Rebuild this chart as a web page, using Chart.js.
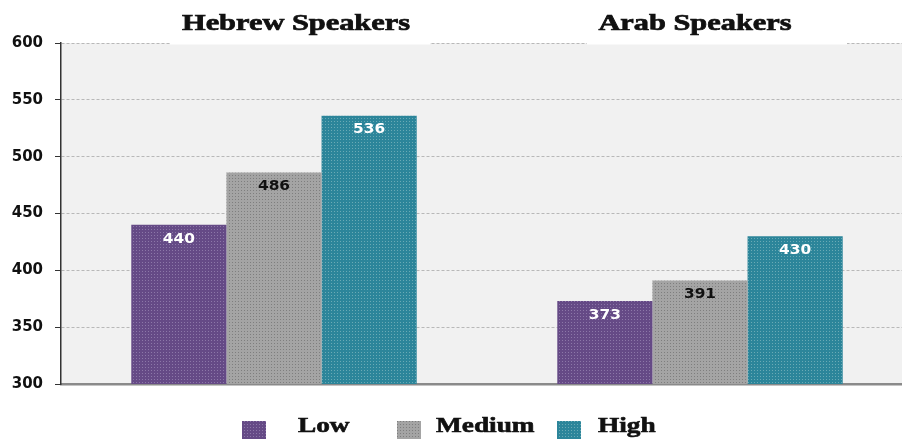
<!DOCTYPE html>
<html lang="en">
  <head>
    <meta charset="utf-8" />
    <title>Hebrew and Arab speakers</title>
    <script src="https://cdn.jsdelivr.net/npm/chart.js/dist/chart.umd.min.js"></script>
    <style>
      * {
        margin: 0;
        padding: 0;
      }
      body {
        background: #fff;
        overflow: hidden;
      }
      .chartBox {
        width: 920px;
        height: 439px;
      }
    </style>
  </head>
  <body>
    <div class="chartBox">
      <canvas id="myChart"></canvas>
    </div>

    <script>
      // data
      const categories = ["Hebrew Speakers", "Arab Speakers"];
      const seriesNames = ["Low", "Medium", "High"];
      const lowValues = [440, 373];
      const mediumValues = [486, 391];
      const highValues = [536, 430];
      const yTicks = [300, 350, 400, 450, 500, 550, 600];

      // dotted fill like the original
      function dots(base, dot) {
        const c = document.createElement("canvas");
        c.width = 3;
        c.height = 3;
        const g = c.getContext("2d");
        g.fillStyle = base;
        g.fillRect(0, 0, 3, 3);
        g.fillStyle = dot;
        g.fillRect(1, 1, 1, 1);
        return g.createPattern(c, "repeat");
      }

      const fills = [
        dots("#654a86", "#8c77a8"),
        dots("#a4a4a4", "#7e7e7e"),
        dots("#2c859a", "#6aaab5"),
      ];
      const labelColors = ["#fff", "#111", "#fff"];

      const data = {
        labels: categories,
        datasets: [lowValues, mediumValues, highValues].map((vals, i) => ({
          label: seriesNames[i],
          data: vals,
          backgroundColor: fills[i],
          borderWidth: 0,
          categoryPercentage: 0.67,
          barPercentage: 1.0,
        })),
      };

      // grey plot background
      const plotBg = {
        id: "plotBg",
        beforeDraw(chart) {
          const { ctx, chartArea: a } = chart;
          ctx.save();
          ctx.fillStyle = "#f1f1f1";
          ctx.fillRect(a.left, a.top, a.right - a.left, a.bottom - a.top);
          ctx.restore();
        },
      };

      // value labels inside the bars
      const barValues = {
        id: "barValues",
        afterDatasetsDraw(chart) {
          const { ctx } = chart;
          ctx.save();
          ctx.font = "bold 14px 'DejaVu Sans'";
          ctx.textAlign = "center";
          ctx.textBaseline = "middle";
          chart.data.datasets.forEach((ds, i) => {
            const meta = chart.getDatasetMeta(i);
            meta.data.forEach((bar, j) => {
              ctx.save();
              ctx.translate(bar.x, bar.y + 14);
              ctx.scale(1.1, 1);
              ctx.fillStyle = labelColors[i];
              ctx.fillText(ds.data[j], 0, 0);
              ctx.restore();
            });
          });
          ctx.restore();
        },
      };

      // group titles on top, on a white strip
      const titleShift = [22, -5];
      const stripShift = [26, 17];
      const groupTitles = {
        id: "groupTitles",
        afterDraw(chart) {
          const { ctx } = chart;
          const xs = chart.scales.x;
          ctx.save();
          chart.data.labels.forEach((lab, i) => {
            const px = xs.getPixelForValue(i);
            const cx = px + titleShift[i];
            ctx.fillStyle = "#fff";
            ctx.fillRect(px + stripShift[i] - 130, 0, 260, 44.5);
            ctx.save();
            ctx.translate(cx, 30);
            ctx.scale(1.32, 1);
            ctx.fillStyle = "#111";
            ctx.strokeStyle = "#111";
            ctx.lineWidth = 0.7;
            ctx.font = "bold 23px 'Liberation Serif'";
            ctx.textAlign = "center";
            ctx.textBaseline = "alphabetic";
            ctx.fillText(lab, 0, 0);
            ctx.strokeText(lab, 0, 0);
            ctx.restore();
          });
          ctx.restore();
        },
      };

      // legend along the bottom
      const legendBoxX = [242, 397, 557];
      const legendTextX = [298, 436, 598];
      const bottomLegend = {
        id: "bottomLegend",
        afterDraw(chart) {
          const { ctx } = chart;
          ctx.save();
          chart.data.datasets.forEach((ds, i) => {
            ctx.fillStyle = ds.backgroundColor;
            ctx.fillRect(legendBoxX[i], 421, 24, 18);
            ctx.save();
            ctx.translate(legendTextX[i], 432);
            ctx.scale(1.3, 1);
            ctx.fillStyle = "#111";
            ctx.strokeStyle = "#111";
            ctx.lineWidth = 0.6;
            ctx.font = "bold 21px 'Liberation Serif'";
            ctx.textAlign = "left";
            ctx.textBaseline = "alphabetic";
            ctx.fillText(ds.label, 0, 0);
            ctx.strokeText(ds.label, 0, 0);
            ctx.restore();
          });
          ctx.restore();
        },
      };

      // config
      const config = {
        type: "bar",
        data,
        options: {
          responsive: true,
          maintainAspectRatio: false,
          animation: false,
          layout: { padding: { top: 43, right: 7, bottom: 55, left: 0 } },
          plugins: {
            legend: { display: false },
            tooltip: { enabled: false },
          },
          scales: {
            x: {
              grid: { display: false, drawTicks: false },
              ticks: { display: false },
              border: { color: "#8a8a8a", width: 2.5 },
              afterFit(s) {
                s.height = 0;
              },
            },
            y: {
              min: yTicks[0],
              max: yTicks[yTicks.length - 1],
              afterBuildTicks(s) {
                s.ticks = yTicks.map((v) => ({ value: v }));
              },
              ticks: {
                color: "#111",
                padding: 12,
                font: { family: "'DejaVu Sans'", size: 15, weight: "bold" },
              },
              grid: {
                color: "#b8b8b8",
                tickColor: "#333",
                tickLength: 6,
                lineWidth: 1,
              },
              border: { color: "#333", width: 1.5, dash: [3, 2] },
              afterFit(s) {
                s.width = 61;
              },
            },
          },
        },
        plugins: [plotBg, barValues, groupTitles, bottomLegend],
      };

      // render init block
      const myChart = new Chart(document.getElementById("myChart"), config);
    </script>
  </body>
</html>
